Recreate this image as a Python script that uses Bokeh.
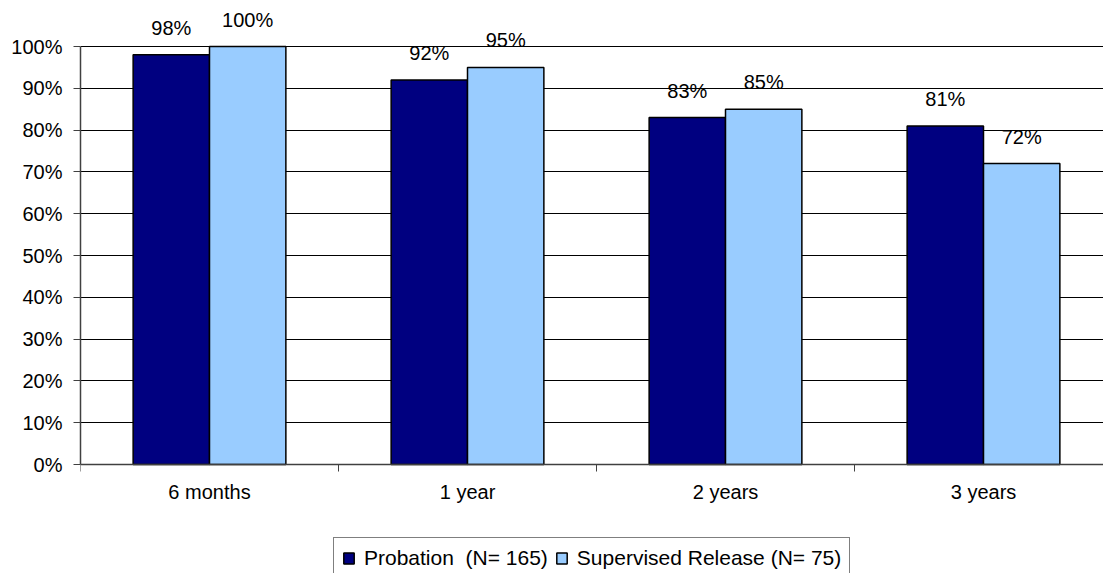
from bokeh.plotting import figure
from bokeh.models import (ColumnDataSource, Range1d, FixedTicker, PrintfTickFormatter,
                          Legend, LegendItem)
from bokeh.transform import dodge
from bokeh.core.properties import value
from bokeh.embed import file_html
from bokeh.resources import INLINE
import numpy as np

categories = ["6 months", "1 year", "2 years", "3 years"]
probation = [98, 92, 83, 81]
supervised = [100, 95, 85, 72]
series_names = ["Probation  (N= 165)", "Supervised Release (N= 75)"]
y_ticks = list(range(0, 101, 10))

FONT = "Liberation Sans"
NAVY = "#000080"
LIGHT = "#99CCFF"

# layout (pixels)
W, H = 1103, 573
LEFT, TOP = 80, 4
ZERO_Y = 464          # pixel row of 0%
PX_PER_PCT = 4.18
CAT_PX = 258

xc = np.arange(len(categories)) + 0.5
src = ColumnDataSource(dict(
    xc=xc,
    prob=probation,
    sup=supervised,
    prob_lbl=[f"{v}%" for v in probation],
    sup_lbl=[f"{v}%" for v in supervised],
))

y_top = (ZERO_Y - TOP) / PX_PER_PCT
y_bot = -(H - ZERO_Y) / PX_PER_PCT
x_end = (W - LEFT) / CAT_PX

p = figure(width=W, height=H, output_backend="svg", toolbar_location=None,
           x_range=Range1d(0, x_end), y_range=Range1d(y_bot, y_top),
           min_border_left=LEFT, min_border_right=0, min_border_top=TOP,
           min_border_bottom=0)
p.outline_line_color = None
p.background_fill_color = "white"

bw = 0.296
r1 = p.vbar(x=dodge("xc", -bw / 2, range=p.x_range), top="prob", width=bw, bottom=0,
            source=src, fill_color=NAVY, line_color="black", line_width=1.5)
r2 = p.vbar(x=dodge("xc", bw / 2, range=p.x_range), top="sup", width=bw, bottom=0,
            source=src, fill_color=LIGHT, line_color="black", line_width=1.5)

for col, lbl, off in (("prob", "prob_lbl", -bw / 2), ("sup", "sup_lbl", bw / 2)):
    p.text(x=dodge("xc", off, range=p.x_range), y=col, text=lbl, source=src,
           text_align="center", text_baseline="alphabetic", y_offset=-27,
           text_font=value(FONT), text_font_size="20px", text_color="black")

# x axis at 0: ticks at category boundaries, labels at centers
p.xaxis.fixed_location = 0
p.xaxis.ticker = FixedTicker(ticks=list(xc), minor_ticks=list(range(len(categories) + 1)))
p.xaxis.major_label_overrides = {float(x): c for x, c in zip(xc, categories)}
p.xaxis.major_tick_line_color = None
p.xaxis.minor_tick_line_color = "#404040"
p.xaxis.minor_tick_out = 7
p.xaxis.minor_tick_in = 0
p.xaxis.axis_line_color = "#404040"
p.xaxis.axis_line_width = 1.5
p.xaxis.major_label_standoff = 9
p.xaxis.major_label_text_font = FONT
p.xaxis.major_label_text_font_size = "20px"
p.xaxis.major_label_text_color = "black"

p.yaxis.ticker = FixedTicker(ticks=y_ticks)
p.yaxis.bounds = (0, 100)
p.yaxis.formatter = PrintfTickFormatter(format="%d%%")
p.yaxis.minor_tick_line_color = None
p.yaxis.major_tick_out = 7
p.yaxis.major_tick_in = 0
p.yaxis.major_tick_line_color = "#404040"
p.yaxis.axis_line_color = "#404040"
p.yaxis.axis_line_width = 1.5
p.yaxis.major_label_standoff = 11
p.yaxis.major_label_text_font = FONT
p.yaxis.major_label_text_font_size = "20px"
p.yaxis.major_label_text_color = "black"

p.xgrid.grid_line_color = None
p.ygrid.grid_line_color = "black"
p.ygrid.grid_line_width = 1
p.ygrid.ticker = FixedTicker(ticks=y_ticks[1:])

legend = Legend(items=[LegendItem(label=series_names[0], renderers=[r1]),
                       LegendItem(label=series_names[1], renderers=[r2])],
                orientation="horizontal", location=(333 - LEFT, -6),
                border_line_color="black", border_line_width=1,
                background_fill_color="white", background_fill_alpha=1,
                padding=8, spacing=7, glyph_width=13, glyph_height=14,
                label_standoff=9, margin=0,
                label_text_font=FONT, label_text_font_size="21px",
                label_text_color="black")
p.add_layout(legend, "center")

open("out.html", "w").write(file_html(p, INLINE))
